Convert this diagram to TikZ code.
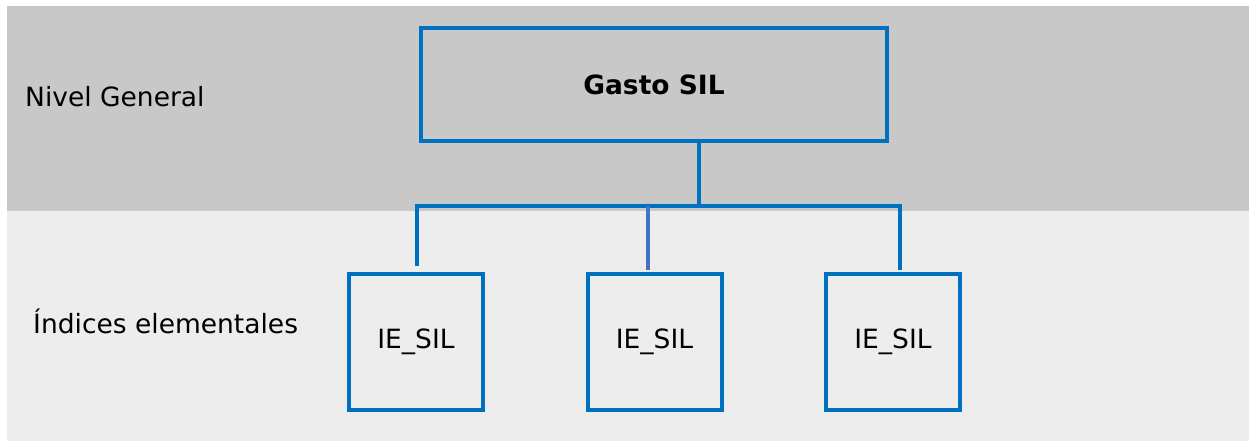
\documentclass[tikz,border=0pt]{standalone}
\usepackage{fontspec}
\setmainfont{DejaVu Sans}
\definecolor{bandgray}{HTML}{C8C8C8}
\definecolor{bandlight}{HTML}{EDEDED}
\definecolor{boxblue}{HTML}{0070C0}
\definecolor{linkblue}{HTML}{4472C4}
\begin{document}
\begin{tikzpicture}[x=1pt,y=-1pt,
  levelbox/.style={draw=boxblue,line width=4pt,inner sep=0pt,font=\fontsize{26.5}{30}\selectfont},
  leveltext/.style={anchor=base west,inner sep=0pt,font=\fontsize{26.5}{30}\selectfont},
  link/.style={draw=boxblue,line width=4pt}]
\useasboundingbox (0,0) rectangle (1249,443);
\fill[bandgray] (7,6) rectangle (1249,211);
\fill[bandlight] (7,211) rectangle (1249,441);
\node[leveltext] (nivel) at (25,106.5) {Nivel General};
\node[leveltext] (indices) at (33,334) {Índices elementales};
\node[levelbox,minimum width=466pt,minimum height=113pt,font=\fontsize{26.5}{30}\selectfont\bfseries] (gasto) at (654,85) {Gasto SIL};
\node[levelbox,minimum width=134pt,minimum height=136pt] (ie1) at (416,342) {IE\_SIL};
\node[levelbox,minimum width=134pt,minimum height=136pt] (ie2) at (654.5,342) {IE\_SIL};
\node[levelbox,minimum width=134pt,minimum height=136pt] (ie3) at (893,342) {IE\_SIL};
\coordinate (bar) at (699,206);
\coordinate (end1) at (417,266);
\coordinate (end2) at (648,270);
\coordinate (end3) at (900,270);
\draw[link] (gasto.south -| bar) -- (bar);
\draw[link] (bar) -| (end1);
\draw[link] (bar) -| (end3);
\draw[link,draw=linkblue] (end2 |- bar) -- (end2);
\end{tikzpicture}
\end{document}
